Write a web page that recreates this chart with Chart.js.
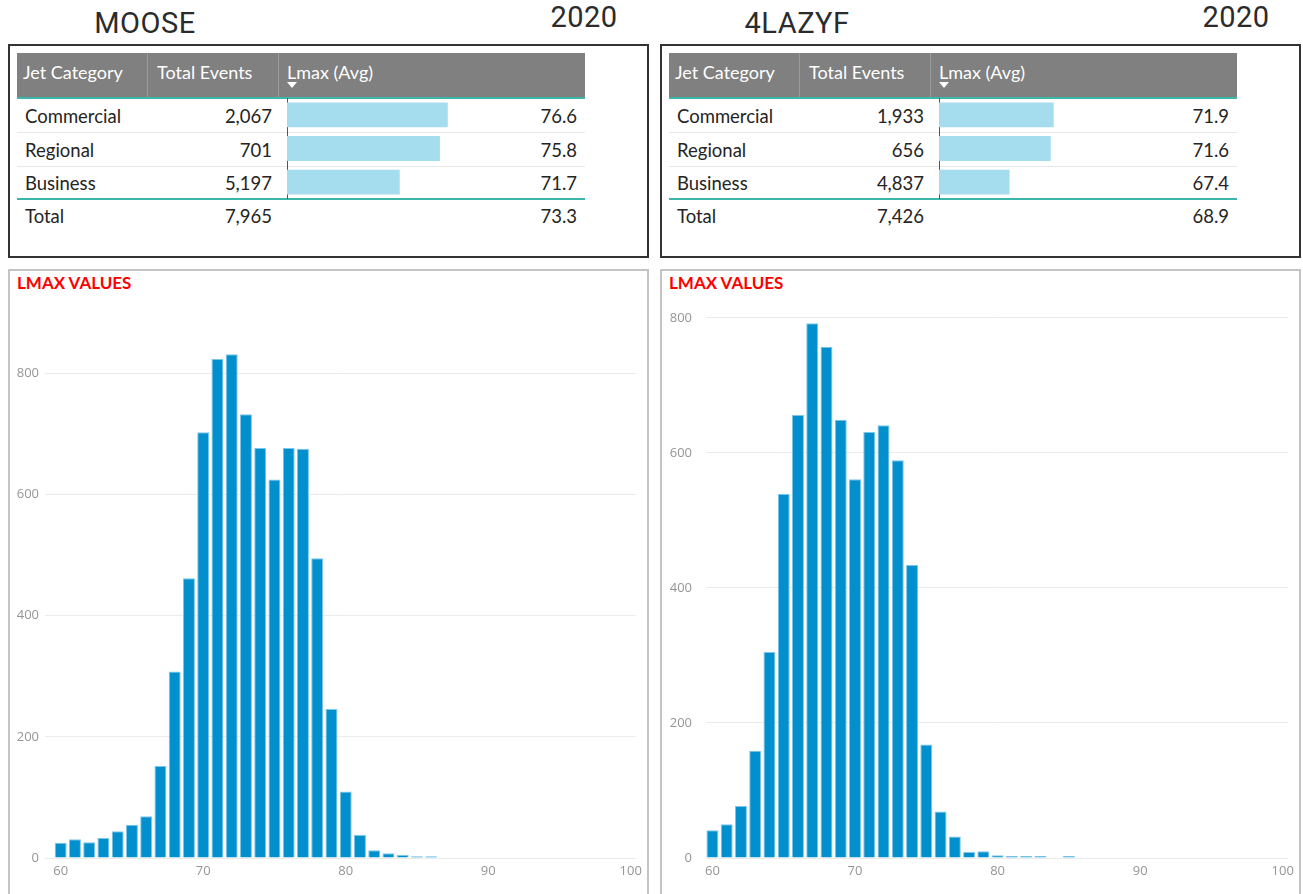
<!DOCTYPE html>
<html>
<head>
<meta charset="utf-8">
<script src="https://cdn.jsdelivr.net/npm/chart.js@4.4.1/dist/chart.umd.min.js"></script>
<style>
  body { margin: 0; width: 1303px; height: 894px; background: #fff; overflow: hidden; position: relative; font-family: Lato, "Open Sans", sans-serif; }
  .side { position: absolute; top: 0; width: 651px; height: 894px; }
  .abs { position: absolute; }
  .title { position: absolute; font-family: Roboto, sans-serif; font-weight: 400; font-size: 29px; line-height: 1; color: #2b2b2b; text-align: center; letter-spacing: 0.5px; }
  .box { position: absolute; left: 8px; top: 44px; width: 641px; height: 214px; border: 2px solid #333; box-sizing: border-box; }
  .head { position: absolute; left: 17px; top: 53px; width: 568px; height: 44px; background: #808080; }
  .hcell { position: absolute; top: 7px; height: 24px; line-height: 24px; color: #fff; font-size: 18px; white-space: nowrap; }
  .hsep { position: absolute; top: 0; width: 1px; height: 44px; background: #9a9a9a; }
  .cell { position: absolute; height: 24px; line-height: 24px; font-size: 18.5px; color: #252423; white-space: nowrap; }
  .num { text-align: right; }
  .teal { position: absolute; left: 17px; width: 568px; height: 2px; background: #3bb6a8; }
  .rowsep { position: absolute; left: 17px; width: 568px; height: 1px; background: #e8e8e8; }
  .arrow { position: absolute; left: 287px; top: 82px; width: 0; height: 0; border-left: 5px solid transparent; border-right: 5px solid transparent; border-top: 6px solid #fff; }
  .panel { position: absolute; left: 8px; top: 269px; width: 641px; height: 640px; border: 2px solid #c4c4c4; box-sizing: border-box; }
  .ptitle { position: absolute; left: 17px; top: 272px; font-size: 17px; font-weight: 700; color: #ff0000; line-height: 22px; }
</style>
</head>
<body>
<div class="side" id="side-moose" style="left:0px"></div>
<div class="side" id="side-lazyf" style="left:652px"></div>

<script>
const JET_CATEGORIES = ["Commercial", "Regional", "Business"];

const MOOSE_EVENTS = [2067, 701, 5197];
const MOOSE_LMAX = [76.6, 75.8, 71.7];
const MOOSE_TOTAL_EVENTS = 7965;
const MOOSE_TOTAL_LMAX = 73.3;

const LAZYF_EVENTS = [1933, 656, 4837];
const LAZYF_LMAX = [71.9, 71.6, 67.4];
const LAZYF_TOTAL_EVENTS = 7426;
const LAZYF_TOTAL_LMAX = 68.9;

// histogram bins (Lmax dB) and event counts
const MOOSE_BINS = [60, 61, 62, 63, 64, 65, 66, 67, 68, 69, 70, 71, 72, 73, 74, 75, 76, 77, 78, 79, 80, 81, 82, 83, 84, 85, 86];
const MOOSE_COUNTS = [25, 31, 26, 33, 44, 55, 69, 152, 308, 462, 703, 824, 832, 733, 677, 625, 677, 676, 495, 246, 110, 38, 13, 8, 5, 3, 3];

const LAZYF_BINS = [60, 61, 62, 63, 64, 65, 66, 67, 68, 69, 70, 71, 72, 73, 74, 75, 76, 77, 78, 79, 80, 81, 82, 83, 85];
const LAZYF_COUNTS = [41, 50, 77, 159, 305, 539, 656, 792, 757, 649, 561, 631, 641, 589, 434, 168, 69, 32, 9, 10, 4, 3, 3, 3, 3];

const X_TICKS = [60, 70, 80, 90, 100];
const Y_TICKS = [0, 200, 400, 600, 800];

function buildSide(id, name, year, events, lmax, totalEvents, totalLmax) {
  const side = document.getElementById(id);
  const rowMid = [116, 150, 183];
  let rows = "";
  JET_CATEGORIES.forEach((cat, i) => {
    const top = rowMid[i] - 12.5;
    rows += `
      <div class="cell" style="top:${top}px;left:25px">${cat}</div>
      <div class="cell num" style="top:${top}px;left:147px;width:125px">${events[i].toLocaleString("en-US")}</div>
      <div class="cell num" style="top:${top}px;left:279px;width:298px">${lmax[i].toFixed(1)}</div>`;
  });

  side.innerHTML = `
    <div class="title" style="left:45px;width:200px;top:9px">${name}</div>
    <div class="title" style="left:534px;width:100px;top:3px">${year}</div>
    <div class="box"></div>
    <div class="head">
      <div class="hcell" style="left:6px">Jet Category</div>
      <div class="hsep" style="left:130px"></div>
      <div class="hcell" style="left:140px">Total Events</div>
      <div class="hsep" style="left:261px"></div>
      <div class="hcell" style="left:270px">Lmax (Avg)</div>
    </div>
    <div class="arrow"></div>
    <div class="teal" style="top:97px"></div>
    <div class="rowsep" style="top:132px"></div>
    <div class="rowsep" style="top:166px"></div>
    <div class="teal" style="top:198px"></div>
    ${rows}
    <div class="cell" style="top:${216 - 12.5}px;left:25px">Total</div>
    <div class="cell num" style="top:${216 - 12.5}px;left:147px;width:125px">${totalEvents.toLocaleString("en-US")}</div>
    <div class="cell num" style="top:${216 - 12.5}px;left:279px;width:298px">${totalLmax.toFixed(1)}</div>
    <canvas class="abs" id="${id}-bars" width="299" height="101" style="left:286px;top:98px"></canvas>
    <div class="panel"></div>
    <div class="ptitle">LMAX VALUES</div>
    <canvas class="abs" id="${id}-hist" width="637" height="598" style="left:10px;top:296px"></canvas>
  `;
}

// little data bars inside the Lmax (Avg) column
function drawDataBars(canvasId, lmax) {
  const ctx = document.getElementById(canvasId).getContext("2d");
  new Chart(ctx, {
    type: "bar",
    data: {
      labels: JET_CATEGORIES,
      datasets: [{ data: lmax, backgroundColor: "#a5dcee", borderWidth: 0, barPercentage: 0.74, categoryPercentage: 1 }]
    },
    options: {
      indexAxis: "y",
      responsive: false,
      devicePixelRatio: 1,
      animation: false,
      layout: { padding: 0 },
      scales: {
        x: { display: false, min: 60.2, max: 90.6 },
        y: {
          ticks: { display: false },
          grid: { display: false, drawTicks: false },
          border: { display: true, color: "#555", dash: [1, 2], width: 1 },
          afterFit: s => { s.width = 1; }
        }
      },
      plugins: { legend: { display: false }, tooltip: { enabled: false } }
    }
  });
}

function drawHistogram(canvasId, bins, counts, opts) {
  const ctx = document.getElementById(canvasId).getContext("2d");
  new Chart(ctx, {
    type: "bar",
    data: {
      datasets: [{
        data: bins.map((b, i) => ({ x: b, y: counts[i] })),
        backgroundColor: "#018fcd",
        borderColor: "#7cc6e8",
        borderWidth: 1,
        barPercentage: 1,
        categoryPercentage: 0.84
      }]
    },
    options: {
      responsive: false,
      devicePixelRatio: 1,
      animation: false,
      layout: { padding: { top: 17, right: opts.padRight, left: 0, bottom: 0 } },
      scales: {
        x: {
          type: "linear",
          offset: false,
          min: opts.xMin,
          max: 100.4,
          afterBuildTicks: s => { s.ticks = X_TICKS.map(v => ({ value: v })); },
          afterFit: s => { s.height = 36; },
          ticks: { color: "#959595", font: { family: "Open Sans", size: 13 }, padding: 5, maxRotation: 0 },
          grid: { display: false, drawTicks: false, offset: false },
          border: { display: false }
        },
        y: {
          min: 0,
          max: opts.yMax,
          afterBuildTicks: s => { s.ticks = Y_TICKS.map(v => ({ value: v })); },
          afterFit: s => { s.width = opts.axisWidth; },
          ticks: { color: "#959595", font: { family: "Open Sans", size: 13 }, padding: opts.tickPad },
          grid: { color: "#ebebeb", lineWidth: 1, drawTicks: false },
          border: { display: false }
        }
      },
      plugins: { legend: { display: false }, tooltip: { enabled: false } }
    }
  });
}

buildSide("side-moose", "MOOSE", "2020", MOOSE_EVENTS, MOOSE_LMAX, MOOSE_TOTAL_EVENTS, MOOSE_TOTAL_LMAX);
buildSide("side-lazyf", "4LAZYF", "2020", LAZYF_EVENTS, LAZYF_LMAX, LAZYF_TOTAL_EVENTS, LAZYF_TOTAL_LMAX);

drawDataBars("side-moose-bars", MOOSE_LMAX);
drawDataBars("side-lazyf-bars", LAZYF_LMAX);

drawHistogram("side-moose-hist", MOOSE_BINS, MOOSE_COUNTS, { xMin: 58.9, yMax: 900, axisWidth: 35, tickPad: 6, padRight: 10 });
drawHistogram("side-lazyf-hist", LAZYF_BINS, LAZYF_COUNTS, { xMin: 59.55, yMax: 800, axisWidth: 44, tickPad: 14, padRight: 9 });
</script>
</body>
</html>
